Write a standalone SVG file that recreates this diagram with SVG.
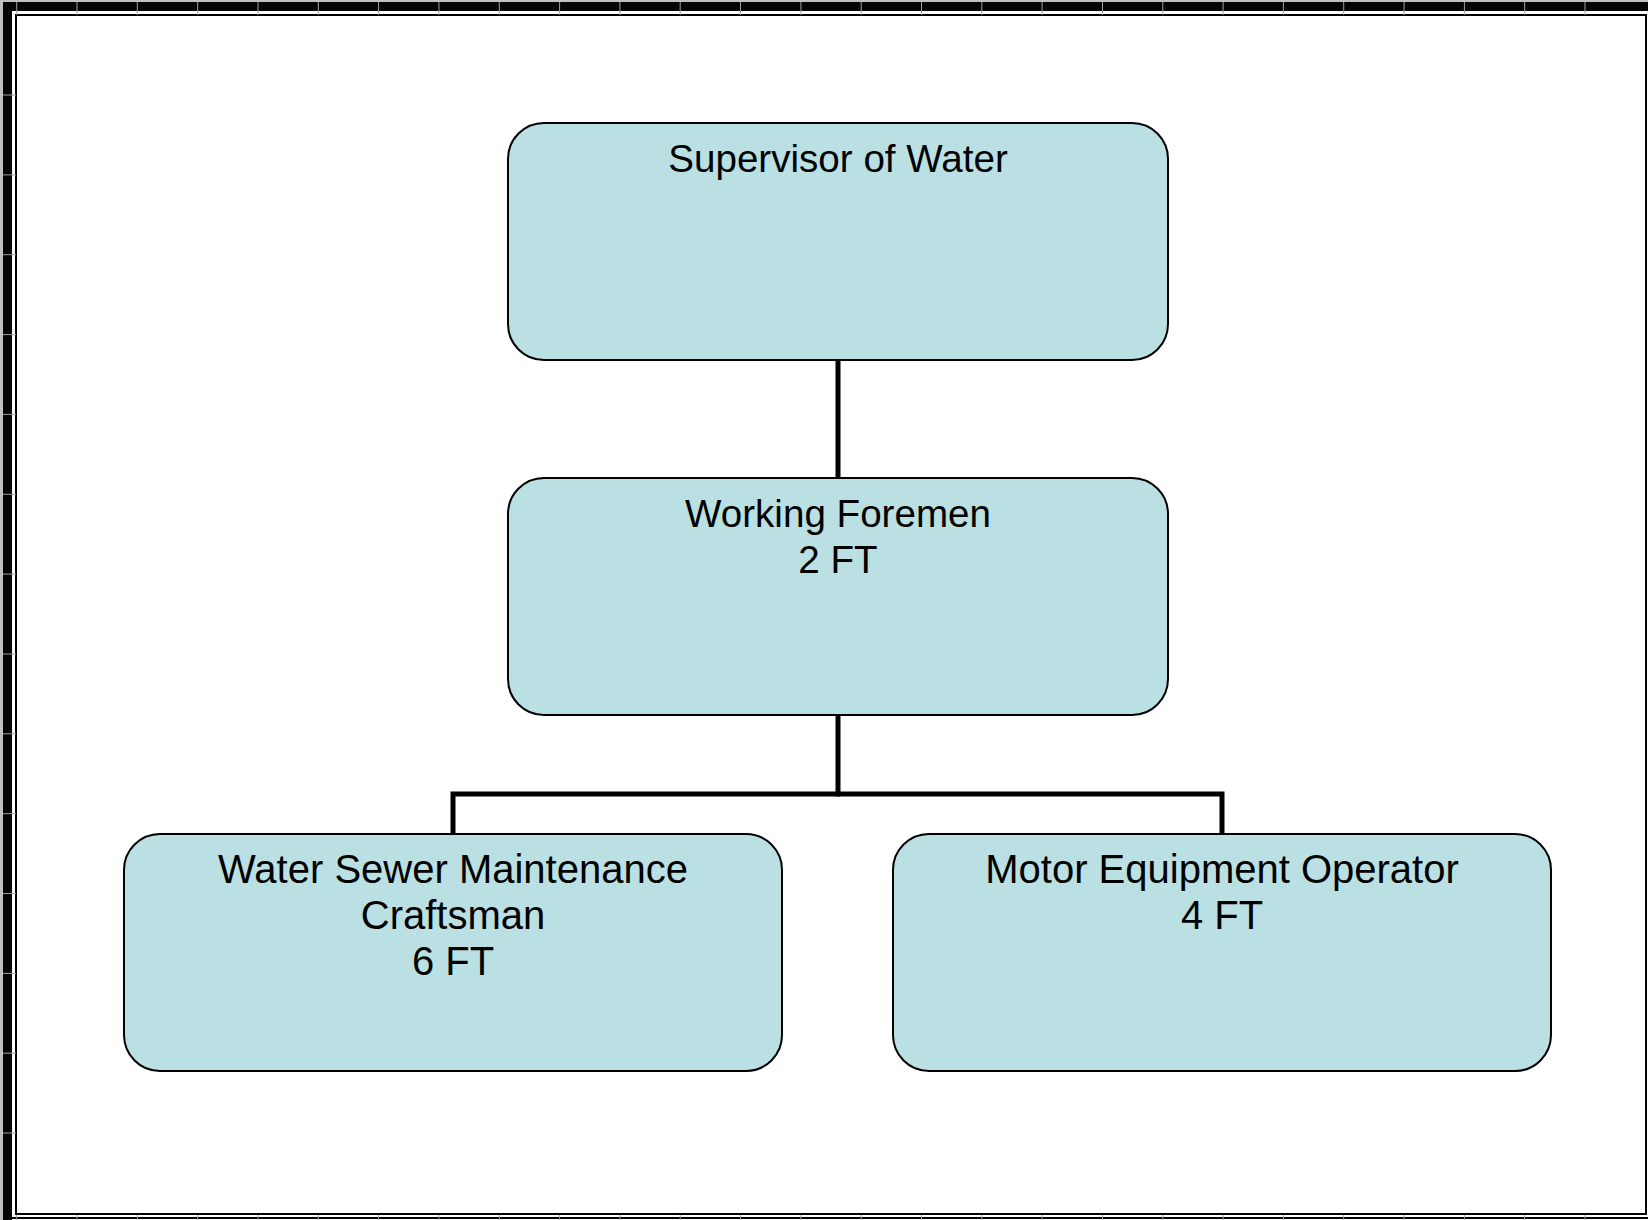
<svg xmlns="http://www.w3.org/2000/svg" width="1648" height="1220" viewBox="0 0 1648 1220">
  <style>
    .node { fill: #BBE0E3; stroke: #000000; stroke-width: 2; }
    .label { font-family: "Liberation Sans", Arial, sans-serif; font-size: 38.6px; fill: #000000; text-anchor: middle; }
    .big { font-size: 40px; }
    .conn { fill: none; stroke: #000000; stroke-width: 5; stroke-linecap: square; }
    .grid { stroke: #a0a0a0; stroke-width: 1; }
  </style>
  <rect x="0" y="0" width="1648" height="1220" fill="#ffffff"/>
  <!-- page frame -->
  <g id="frame">
    <rect x="0" y="0" width="3" height="1220" fill="#c0c0c0"/>
    <rect x="0" y="0" width="1648" height="2" fill="#c0c0c0"/>
    <rect x="3" y="2" width="1645" height="9" fill="#050505"/>
    <rect x="3" y="2" width="9" height="1218" fill="#050505"/>
    <rect x="16" y="15" width="1630" height="1199" fill="none" stroke="#000" stroke-width="2"/>
    <line x1="12" y1="1218" x2="1648" y2="1218" stroke="#000" stroke-width="2"/>
    <g class="grid">
      <path d="M16.7 2V15 M77 2V15 M137.3 2V15 M197.7 2V15 M258 2V15 M318.3 2V15 M378.6 2V15 M438.9 2V15 M499.3 2V15 M559.6 2V15 M619.9 2V15 M680.2 2V15 M740.5 2V15 M800.9 2V15 M861.2 2V15 M921.5 2V15 M981.8 2V15 M1042.1 2V15 M1102.5 2V15 M1162.8 2V15 M1223.1 2V15 M1283.4 2V15 M1343.7 2V15 M1404.1 2V15 M1464.4 2V15 M1524.7 2V15 M1585 2V15"/>
      <path d="M16.7 1215V1220 M77 1215V1220 M137.3 1215V1220 M197.7 1215V1220 M258 1215V1220 M318.3 1215V1220 M378.6 1215V1220 M438.9 1215V1220 M499.3 1215V1220 M559.6 1215V1220 M619.9 1215V1220 M680.2 1215V1220 M740.5 1215V1220 M800.9 1215V1220 M861.2 1215V1220 M921.5 1215V1220 M981.8 1215V1220 M1042.1 1215V1220 M1102.5 1215V1220 M1162.8 1215V1220 M1223.1 1215V1220 M1283.4 1215V1220 M1343.7 1215V1220 M1404.1 1215V1220 M1464.4 1215V1220 M1524.7 1215V1220 M1585 1215V1220"/>
      <path d="M3 95H16 M3 174.9H16 M3 254.7H16 M3 334.6H16 M3 414.4H16 M3 494.3H16 M3 574.1H16 M3 654H16 M3 733.8H16 M3 813.7H16 M3 893.5H16 M3 973.4H16 M3 1053.2H16 M3 1133H16"/>
    </g>
  </g>
  <!-- connectors -->
  <g id="connectors">
    <line class="conn" x1="838" y1="361" x2="838" y2="477"/>
    <polyline class="conn" points="838,716 838,794"/>
    <polyline class="conn" points="453,833 453,794 1222,794 1222,833"/>
  </g>
  <g id="node-supervisor">
    <rect class="node" x="508" y="123" width="660" height="237" rx="36" ry="36"/>
    <text class="label" x="838" y="172">Supervisor of Water</text>
  </g>
  <g id="node-foremen">
    <rect class="node" x="508" y="478" width="660" height="237" rx="36" ry="36"/>
    <text class="label" x="838" y="527">Working Foremen</text>
    <text class="label" x="838" y="573">2 FT</text>
  </g>
  <g id="node-craftsman">
    <rect class="node" x="124" y="834" width="658" height="237" rx="36" ry="36"/>
    <text class="label big" x="453" y="883">Water Sewer Maintenance</text>
    <text class="label big" x="453" y="929">Craftsman</text>
    <text class="label big" x="453" y="975">6 FT</text>
  </g>
  <g id="node-operator">
    <rect class="node" x="893" y="834" width="658" height="237" rx="36" ry="36"/>
    <text class="label big" x="1222" y="883">Motor Equipment Operator</text>
    <text class="label big" x="1222" y="929">4 FT</text>
  </g>
</svg>
